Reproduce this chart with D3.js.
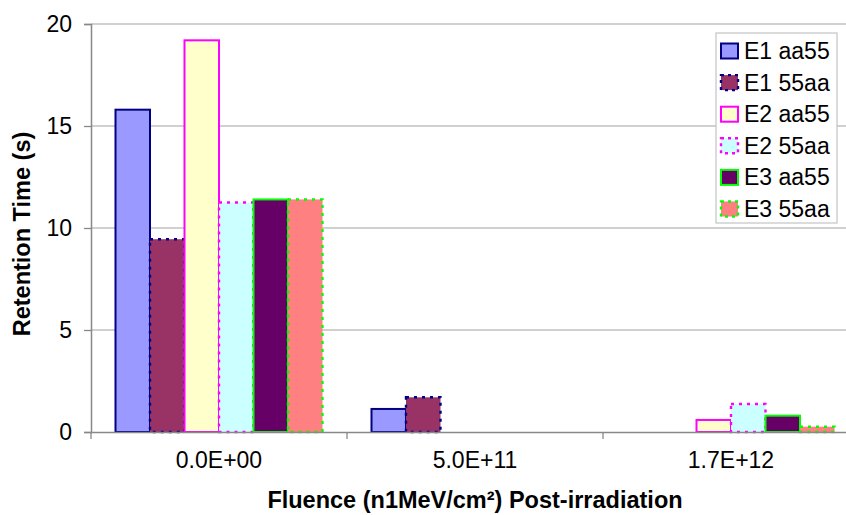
<!DOCTYPE html>
<html><head><meta charset="utf-8">
<script src="https://cdn.jsdelivr.net/npm/d3@7"></script>
<style>body{margin:0;background:#fff}text{font-family:"Liberation Sans",Arial,sans-serif}</style>
</head><body><svg id="c" width="846" height="515"></svg>
<script>
const categories = ["0.0E+00", "5.0E+11", "1.7E+12"];
const seriesNames = ["E1 aa55", "E1 55aa", "E2 aa55", "E2 55aa", "E3 aa55", "E3 55aa"];
const E1_aa55 = [15.8, 1.13, null];
const E1_55aa = [9.45, 1.7, null];
const E2_aa55 = [19.2, null, 0.59];
const E2_55aa = [11.25, null, 1.37];
const E3_aa55 = [11.4, null, 0.8];
const E3_55aa = [11.4, null, 0.26];
const yTicks = [0, 5, 10, 15, 20];

const values = [E1_aa55, E1_55aa, E2_aa55, E2_55aa, E3_aa55, E3_55aa];
const styles = [
  {fill:"#9999FF", stroke:"#000080", dash:null},
  {fill:"#993366", stroke:"#000080", dash:"3,5"},
  {fill:"#FFFFCC", stroke:"#FF00FF", dash:null},
  {fill:"#CCFFFF", stroke:"#FF00FF", dash:"3,5"},
  {fill:"#660066", stroke:"#00FF00", dash:null},
  {fill:"#FF8080", stroke:"#00FF00", dash:"3,5"}
];

const svg = d3.select("#c");
const L = 91, R = 859, T = 24, B = 432;
const x0 = d3.scaleBand().domain(categories).range([L, R]);
const x1 = d3.scaleBand().domain(seriesNames).range([24.5, x0.bandwidth() - 24.5]);
const y = d3.scaleLinear().domain([0, 20]).range([B, T]);

// gridlines
svg.append("g").selectAll("line").data(yTicks.filter(d => d > 0)).join("line")
  .attr("x1", L).attr("x2", R).attr("y1", d => y(d)).attr("y2", d => y(d))
  .attr("stroke", "#c0c0c0").attr("stroke-width", 1.3);

// bars
const g = svg.append("g");
categories.forEach((c, ci) => {
  seriesNames.forEach((s, si) => {
    const v = values[si][ci];
    if (v == null) return;
    const st = styles[si];
    g.append("rect")
      .attr("x", x0(c) + x1(s)).attr("width", x1.bandwidth())
      .attr("y", y(v)).attr("height", y(0) - y(v))
      .attr("fill", st.fill).attr("stroke", st.stroke).attr("stroke-width", st.dash ? 2.4 : 2)
      .attr("stroke-dasharray", st.dash);
  });
});

// y axis
const ya = svg.append("g").attr("transform", `translate(${L},0)`)
  .call(d3.axisLeft(y).tickValues(yTicks).tickSize(7).tickPadding(12).tickFormat(d3.format("d")));
ya.select(".domain").attr("stroke", "#888").attr("stroke-width", 1.5);
ya.selectAll(".tick line").attr("stroke", "#888").attr("stroke-width", 1.3);
ya.selectAll(".tick text").attr("font-size", 23).attr("fill", "#000").attr("font-family", "Liberation Sans, Arial, sans-serif");

// x axis
const xa = svg.append("g").attr("transform", `translate(0,${B})`)
  .call(d3.axisBottom(x0).tickSize(0).tickPadding(20));
xa.select(".domain").attr("stroke", "#888").attr("stroke-width", 1.5);
xa.selectAll(".tick text").attr("font-size", 23).attr("fill", "#000").attr("font-family", "Liberation Sans, Arial, sans-serif");
svg.append("g").selectAll("line").data(categories).join("line")
  .attr("x1", d => x0(d)).attr("x2", d => x0(d)).attr("y1", B).attr("y2", B + 7)
  .attr("stroke", "#888").attr("stroke-width", 1.3);

// titles
svg.append("text").attr("x", (L + R) / 2).attr("y", 508).attr("text-anchor", "middle")
  .attr("font-size", 23.5).attr("font-weight", "bold").text("Fluence (n1MeV/cm²) Post-irradiation");
svg.append("text").attr("transform", `translate(30,${(T + B) / 2 + 6}) rotate(-90)`).attr("text-anchor", "middle")
  .attr("font-size", 23.5).attr("font-weight", "bold").text("Retention Time (s)");

// legend
const lg = svg.append("g");
lg.append("rect").attr("x", 716).attr("y", 33).attr("width", 121).attr("height", 190)
  .attr("fill", "#fff").attr("stroke", "#c8c8c8").attr("stroke-width", 1.3);
seriesNames.forEach((s, i) => {
  const cy = 51 + i * 31.6;
  const st = styles[i];
  lg.append("rect").attr("x", 721).attr("y", cy - 7.5).attr("width", 17).attr("height", 15)
    .attr("fill", st.fill).attr("stroke", st.stroke).attr("stroke-width", st.dash ? 2.4 : 2).attr("stroke-dasharray", st.dash ? "3,4" : null);
  lg.append("text").attr("x", 744).attr("y", cy + 8).attr("font-size", 23).text(s);
});
</script></body></html>
